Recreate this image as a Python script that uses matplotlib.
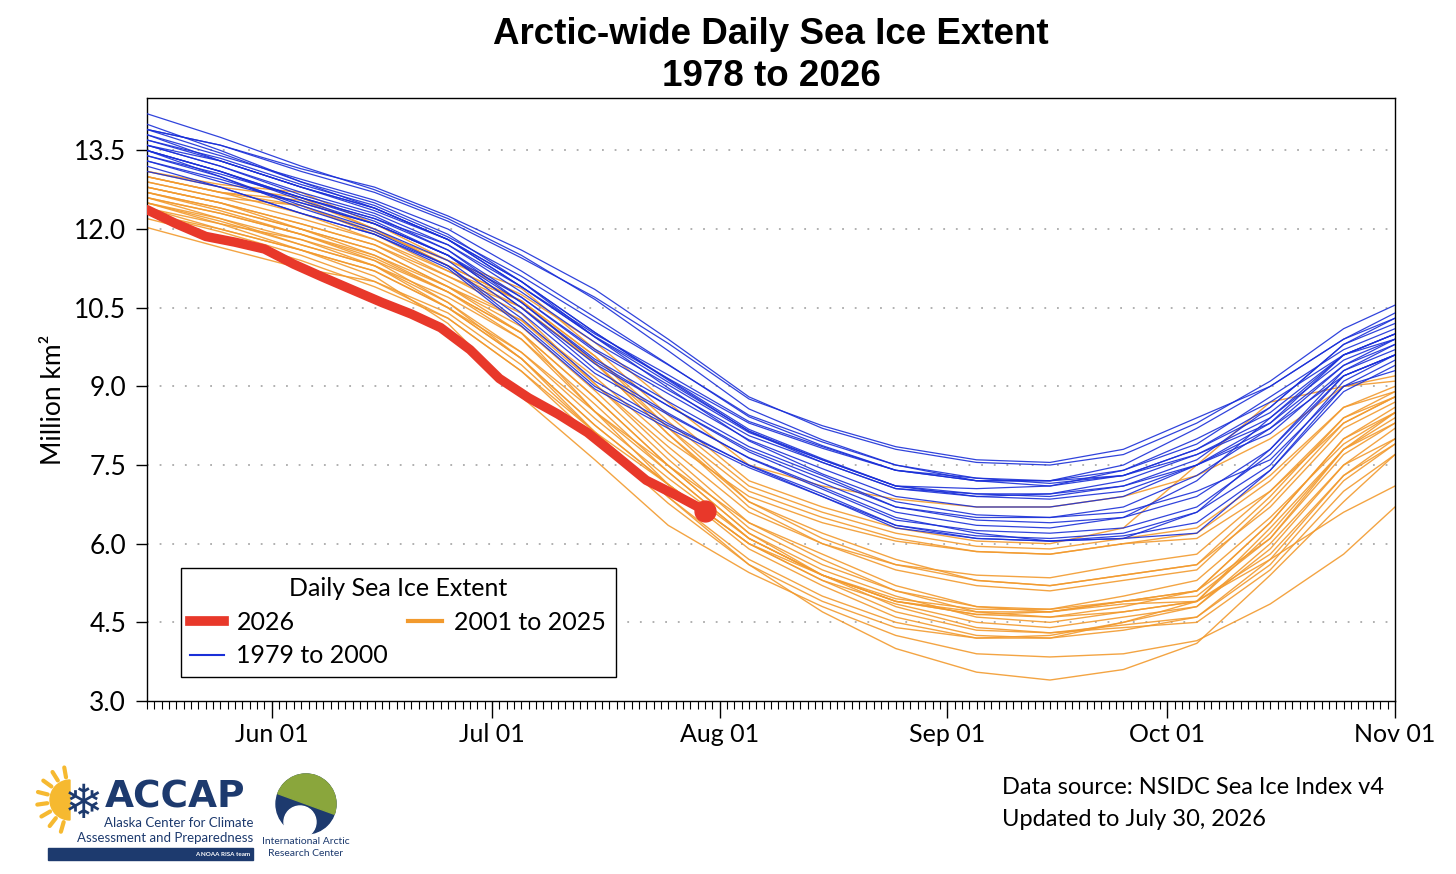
import math
import matplotlib
matplotlib.use("Agg")
import matplotlib.pyplot as plt
import matplotlib.dates as mdates
import pandas as pd
from matplotlib.lines import Line2D
from matplotlib.patches import Circle, Wedge, Rectangle

# sample dates (month-day) used for the historical years
sample_days = ["05-15", "05-25", "06-05", "06-15", "06-25", "07-05", "07-15", "07-25", "08-05",
               "08-15", "08-25", "09-05", "09-15", "09-25", "10-05", "10-15", "10-25", "11-01"]

# 1979 to 2000, million km^2
blue_vals = [
    [14.2, 13.75, 13.2, 12.75, 12.2, 11.5, 10.66, 9.68, 8.57, 7.98, 7.5, 7.2, 7.1, 7.3, 7.8, 8.6, 9.8, 10.3],
    [13.9, 13.6, 13.1, 12.7, 12.15, 11.45, 10.7, 9.82, 8.76, 8.25, 7.85, 7.6, 7.55, 7.8, 8.4, 9.0, 9.9, 10.4],
    [14.0, 13.5, 12.9, 12.5, 11.9, 11.0, 10.03, 9.14, 8.18, 7.62, 7.1, 6.9, 6.85, 7.0, 7.5, 8.3, 9.6, 10.0],
    [13.8, 13.4, 12.95, 12.55, 12.0, 11.2, 10.32, 9.42, 8.42, 7.87, 7.4, 7.2, 7.2, 7.4, 7.9, 8.8, 9.7, 10.1],
    [13.6, 13.3, 12.8, 12.4, 11.8, 10.9, 10.0, 9.22, 8.33, 7.85, 7.4, 7.25, 7.2, 7.3, 7.7, 8.4, 9.5, 9.9],
    [13.3, 12.95, 12.5, 12.1, 11.5, 10.5, 9.43, 8.63, 7.79, 7.24, 6.7, 6.45, 6.4, 6.5, 6.9, 7.8, 9.3, 9.7],
    [13.5, 13.1, 12.6, 12.2, 11.6, 10.6, 9.52, 8.71, 7.85, 7.3, 6.7, 6.5, 6.5, 6.7, 7.3, 8.2, 9.4, 9.8],
    [13.7, 13.35, 12.85, 12.45, 11.85, 11.1, 10.24, 9.41, 8.45, 7.94, 7.5, 7.25, 7.15, 7.3, 7.8, 8.5, 9.6, 10.0],
    [13.9, 13.45, 12.9, 12.4, 11.8, 10.9, 9.94, 9.08, 8.15, 7.6, 7.1, 6.95, 6.9, 7.1, 7.6, 8.6, 9.8, 10.2],
    [13.6, 13.2, 12.7, 12.3, 11.7, 10.8, 9.84, 9.03, 8.12, 7.6, 7.1, 7.05, 7.1, 7.4, 8.0, 8.7, 9.6, 10.0],
    [13.8, 13.3, 12.8, 12.35, 11.8, 11.0, 10.03, 9.12, 8.14, 7.55, 7.05, 6.9, 6.95, 7.2, 7.7, 8.3, 9.4, 9.9],
    [13.4, 13.0, 12.45, 12.0, 11.4, 10.4, 9.25, 8.46, 7.64, 7.08, 6.5, 6.2, 6.05, 6.1, 6.6, 7.8, 9.2, 9.6],
    [13.5, 13.1, 12.55, 12.1, 11.5, 10.6, 9.48, 8.63, 7.75, 7.16, 6.6, 6.35, 6.3, 6.5, 7.2, 8.4, 9.6, 9.9],
    [13.4, 13.05, 12.6, 12.2, 11.7, 10.9, 9.95, 9.15, 8.3, 7.82, 7.4, 7.2, 7.2, 7.5, 8.2, 9.0, 9.9, 10.3],
    [13.5, 13.1, 12.6, 12.15, 11.5, 10.5, 9.33, 8.49, 7.63, 7.04, 6.45, 6.25, 6.2, 6.3, 6.7, 7.7, 9.2, 9.6],
    [13.3, 12.9, 12.5, 12.1, 11.5, 10.7, 9.71, 8.93, 8.06, 7.55, 7.05, 6.95, 6.95, 7.1, 7.5, 8.1, 9.3, 9.8],
    [13.2, 12.8, 12.3, 11.9, 11.3, 10.3, 9.1, 8.29, 7.49, 6.9, 6.3, 6.1, 6.05, 6.15, 6.4, 7.4, 9.0, 9.5],
    [13.9, 13.6, 13.15, 12.8, 12.25, 11.6, 10.85, 9.9, 8.8, 8.2, 7.8, 7.55, 7.5, 7.7, 8.3, 9.1, 10.1, 10.55],
    [13.6, 13.2, 12.65, 12.25, 11.6, 10.7, 9.67, 8.86, 7.98, 7.43, 6.9, 6.7, 6.7, 6.9, 7.5, 8.2, 9.2, 9.6],
    [13.7, 13.3, 12.8, 12.4, 11.8, 11.0, 9.94, 8.97, 7.96, 7.33, 6.8, 6.55, 6.5, 6.6, 7.0, 7.6, 9.0, 9.3],
    [13.5, 13.0, 12.4, 11.95, 11.3, 10.2, 9.0, 8.25, 7.5, 6.95, 6.35, 6.1, 6.05, 6.1, 6.2, 7.4, 8.9, 9.4],
    [13.1, 12.8, 12.3, 11.9, 11.25, 10.15, 8.95, 8.2, 7.45, 6.9, 6.35, 6.15, 6.1, 6.2, 6.6, 7.5, 9.1, 9.6],
]

# 2001 to 2025, million km^2
orange_vals = [
    [13.1, 12.85, 12.7, 12.1, 11.4, 10.75, 9.84, 8.69, 7.5, 7.1, 6.85, 6.7, 6.7, 6.9, 7.3, 8.0, 9.0, 9.2],
    [13.0, 12.7, 12.45, 11.9, 11.2, 10.51, 9.45, 8.21, 7.0, 6.5, 6.1, 5.85, 5.8, 6.0, 6.2, 7.2, 8.6, 9.0],
    [12.9, 12.6, 12.45, 11.95, 11.4, 10.87, 9.71, 8.45, 7.2, 6.7, 6.3, 6.05, 6.0, 6.3, 7.5, 8.7, 9.0, 9.1],
    [13.0, 12.7, 12.55, 12.0, 11.3, 10.63, 9.58, 8.33, 7.1, 6.6, 6.2, 5.95, 5.9, 6.1, 6.3, 7.3, 8.6, 8.9],
    [12.8, 12.5, 12.1, 11.7, 11.0, 10.26, 9.05, 7.85, 6.6, 6.0, 5.6, 5.4, 5.35, 5.6, 5.8, 7.0, 8.3, 8.8],
    [12.6, 12.3, 11.9, 11.5, 10.9, 10.26, 9.18, 7.97, 6.9, 6.4, 6.05, 5.85, 5.8, 6.0, 6.1, 7.0, 8.4, 8.8],
    [12.7, 12.4, 12.0, 11.6, 10.9, 10.02, 8.52, 7.13, 5.9, 5.2, 4.6, 4.25, 4.2, 4.35, 4.6, 5.6, 7.2, 7.9],
    [13.0, 12.7, 12.3, 11.8, 11.1, 10.39, 9.05, 7.73, 6.4, 5.7, 5.1, 4.7, 4.6, 4.8, 5.1, 6.4, 8.0, 8.5],
    [13.1, 12.8, 12.6, 12.0, 11.3, 10.63, 9.45, 8.09, 6.8, 6.2, 5.7, 5.3, 5.2, 5.4, 5.6, 6.7, 8.2, 8.7],
    [12.5, 12.2, 11.8, 11.3, 10.5, 9.65, 8.52, 7.49, 6.4, 5.8, 5.2, 4.8, 4.7, 4.9, 5.0, 6.1, 7.8, 8.4],
    [12.3, 12.0, 11.6, 11.2, 10.5, 9.53, 8.26, 7.13, 6.0, 5.3, 4.85, 4.5, 4.4, 4.6, 4.8, 5.9, 7.5, 8.2],
    [12.6, 12.2, 11.7, 11.3, 10.6, 9.53, 8.13, 6.89, 5.6, 4.7, 4.0, 3.55, 3.4, 3.6, 4.1, 5.4, 6.8, 7.7],
    [12.9, 12.6, 12.2, 11.8, 11.2, 10.63, 9.58, 8.21, 6.8, 6.1, 5.6, 5.3, 5.2, 5.4, 5.6, 6.9, 8.4, 8.9],
    [12.8, 12.5, 12.1, 11.7, 11.1, 10.51, 9.45, 8.09, 6.7, 6.0, 5.5, 5.2, 5.1, 5.3, 5.5, 6.8, 8.3, 8.8],
    [12.7, 12.4, 12.0, 11.5, 10.8, 10.02, 8.79, 7.49, 6.2, 5.5, 5.0, 4.6, 4.5, 4.7, 4.9, 6.2, 7.8, 8.5],
    [12.03, 11.65, 11.25, 11.0, 10.4, 9.41, 8.13, 6.89, 5.7, 5.0, 4.5, 4.2, 4.25, 4.5, 4.8, 6.0, 7.5, 8.0],
    [12.5, 12.15, 11.7, 11.3, 10.7, 9.9, 8.52, 7.37, 6.1, 5.4, 4.9, 4.65, 4.7, 4.9, 5.1, 6.4, 8.0, 8.6],
    [12.4, 12.1, 11.8, 11.4, 10.8, 10.02, 8.79, 7.49, 6.2, 5.4, 4.9, 4.65, 4.6, 4.7, 4.9, 5.7, 6.6, 7.1],
    [12.3, 11.95, 11.5, 11.0, 10.3, 9.29, 8.0, 6.77, 5.6, 4.9, 4.4, 4.2, 4.2, 4.5, 4.9, 6.3, 7.8, 8.3],
    [12.4, 12.0, 11.6, 11.1, 10.2, 8.8, 7.6, 6.35, 5.45, 4.8, 4.25, 3.9, 3.84, 3.9, 4.15, 4.85, 5.8, 6.7],
    [12.6, 12.3, 11.9, 11.4, 10.6, 9.65, 8.39, 7.25, 6.1, 5.4, 4.95, 4.75, 4.75, 4.9, 5.1, 6.1, 7.7, 8.3],
    [12.8, 12.5, 12.0, 11.6, 10.9, 10.14, 8.92, 7.61, 6.3, 5.6, 5.1, 4.8, 4.75, 5.0, 5.3, 6.5, 7.9, 8.5],
    [12.7, 12.35, 11.9, 11.45, 10.8, 9.9, 8.66, 7.37, 6.1, 5.4, 4.8, 4.4, 4.3, 4.45, 4.6, 5.7, 7.3, 7.9],
    [12.5, 12.1, 11.6, 11.2, 10.5, 9.53, 8.26, 7.13, 6.0, 5.3, 4.7, 4.35, 4.3, 4.4, 4.5, 5.5, 7.0, 7.7],
    [12.2, 11.85, 11.4, 10.9, 10.3, 9.29, 8.13, 7.13, 6.0, 5.4, 4.9, 4.7, 4.7, 4.85, 4.9, 5.8, 7.3, 8.0],
]

# 2026 so far
red_days = ["05-15", "05-19", "05-23", "05-27", "05-31", "06-04", "06-08", "06-12", "06-16", "06-20",
            "06-24", "06-28", "07-02", "07-06", "07-10", "07-14", "07-18", "07-22", "07-26", "07-30"]
red_vals = [12.37, 12.10, 11.86, 11.75, 11.62, 11.33, 11.08, 10.84, 10.60, 10.38,
            10.12, 9.70, 9.15, 8.78, 8.47, 8.12, 7.67, 7.21, 6.93, 6.63]

yticks = [3.0, 4.5, 6.0, 7.5, 9.0, 10.5, 12.0, 13.5]

BLUE = "#1a2fd8"
ORANGE = "#f29a2e"
RED = "#e8382a"
NAVY = "#1d3a6e"

plt.rcParams['font.family'] = ['Lato', 'DejaVu Sans']

W, H = 1456, 874
fig = plt.figure(figsize=(W / 100, H / 100), dpi=100)
ax = fig.add_axes([147 / W, 1 - 701 / H, (1395 - 147) / W, (701 - 98) / H])

dates = pd.to_datetime(["2026-" + d for d in sample_days])
red_dates = pd.to_datetime(["2026-" + d for d in red_days])

for vals in orange_vals:
    ax.plot(dates, vals, color=ORANGE, lw=1.0, alpha=0.9, zorder=2)
for vals in blue_vals:
    ax.plot(dates, vals, color=BLUE, lw=0.9, alpha=0.9, zorder=3)
ax.plot(red_dates, red_vals, color=RED, lw=6.8, solid_capstyle='round', zorder=5)
ax.plot(red_dates[-1:], red_vals[-1:], 'o', color=RED, ms=15, zorder=6)

ax.set_xlim(pd.Timestamp("2026-05-15"), pd.Timestamp("2026-11-01"))
ax.set_ylim(3.0, 14.5)
ax.set_yticks(yticks)
ax.set_yticklabels([f"{v:.1f}" for v in yticks])
for v in yticks[1:]:
    ax.axhline(v, color="#aaaaaa", lw=1.3, ls=(0, (1, 6)), zorder=1)

ax.xaxis.set_major_locator(mdates.MonthLocator())
ax.xaxis.set_major_formatter(mdates.DateFormatter("%b %d"))
ax.xaxis.set_minor_locator(mdates.DayLocator())
ax.tick_params(axis='x', which='major', length=12, width=1, pad=4, labelsize=18)
ax.tick_params(axis='x', which='minor', length=6, width=0.8)
ax.tick_params(axis='y', length=8, width=1, labelsize=19, pad=7)
for s in ax.spines.values():
    s.set_linewidth(1.0)
ax.set_ylabel("Million km²", fontsize=19, labelpad=6)

fig.text(771 / W, 1 - 34 / H, "Arctic-wide Daily Sea Ice Extent", ha='center', va='center',
         fontsize=26.5, fontweight='bold', family='Liberation Sans')
fig.text(771 / W, 1 - 76 / H, "1978 to 2026", ha='center', va='center',
         fontsize=26.5, fontweight='bold', family='Liberation Sans')

handles = [Line2D([], [], color=RED, lw=7), Line2D([], [], color=BLUE, lw=1.5),
           Line2D([], [], color=ORANGE, lw=3)]
leg = ax.legend(handles, ["2026", "1979 to 2000", "2001 to 2025"], ncol=2, title="Daily Sea Ice Extent",
                loc='lower left', bbox_to_anchor=(0.027, 0.04), borderaxespad=0, fontsize=18,
                title_fontsize=18, fancybox=False, edgecolor='black', framealpha=1,
                handlelength=1.35, handletextpad=0.5, columnspacing=0.8, labelspacing=0.42,
                borderpad=0.38)
leg.get_frame().set_linewidth(1.0)

fig.text(1002 / W, 1 - 788 / H, "Data source: NSIDC Sea Ice Index v4", fontsize=17, va='center')
fig.text(1002 / W, 1 - 820 / H, "Updated to July 30, 2026", fontsize=17, va='center')

# logos, drawn roughly in pixel space
lg = fig.add_axes([0, 0, 1, 1], zorder=-1)
lg.set_xlim(0, W)
lg.set_ylim(H, 0)
lg.axis('off')
lg.add_patch(Wedge((70, 800), 20, 90, 270, color="#f6b930"))
for ang in range(100, 265, 22):
    a = math.radians(ang)
    lg.plot([70 + 23 * math.cos(a), 70 + 33 * math.cos(a)], [800 - 23 * math.sin(a), 800 - 33 * math.sin(a)],
            color="#f6b930", lw=3, solid_capstyle='round')
lg.text(84, 805, "\u2744", fontsize=34, color=NAVY, family='DejaVu Sans', ha='center', va='center')
lg.text(105, 797, "ACCAP", fontsize=27, fontweight='bold', color=NAVY, family='DejaVu Sans', va='center')
lg.text(253, 823, "Alaska Center for Climate", fontsize=9.5, color=NAVY, ha='right', va='center')
lg.text(253, 838, "Assessment and Preparedness", fontsize=9.5, color=NAVY, ha='right', va='center')
lg.add_patch(Rectangle((48, 848), 205, 12, color=NAVY))
lg.text(250, 854, "A NOAA RISA team", fontsize=4.5, color='white', ha='right', va='center', fontweight='bold')
lg.add_patch(Circle((306, 804), 30, color=NAVY))
lg.add_patch(Wedge((306, 804), 30, 200, 20, color="#8aa63c"))
lg.add_patch(Circle((300, 822), 16, color='white'))
lg.text(306, 842, "International Arctic", fontsize=7.5, color=NAVY, ha='center', va='center')
lg.text(306, 853, "Research Center", fontsize=7.5, color=NAVY, ha='center', va='center')

fig.savefig("out.png", dpi=100)
